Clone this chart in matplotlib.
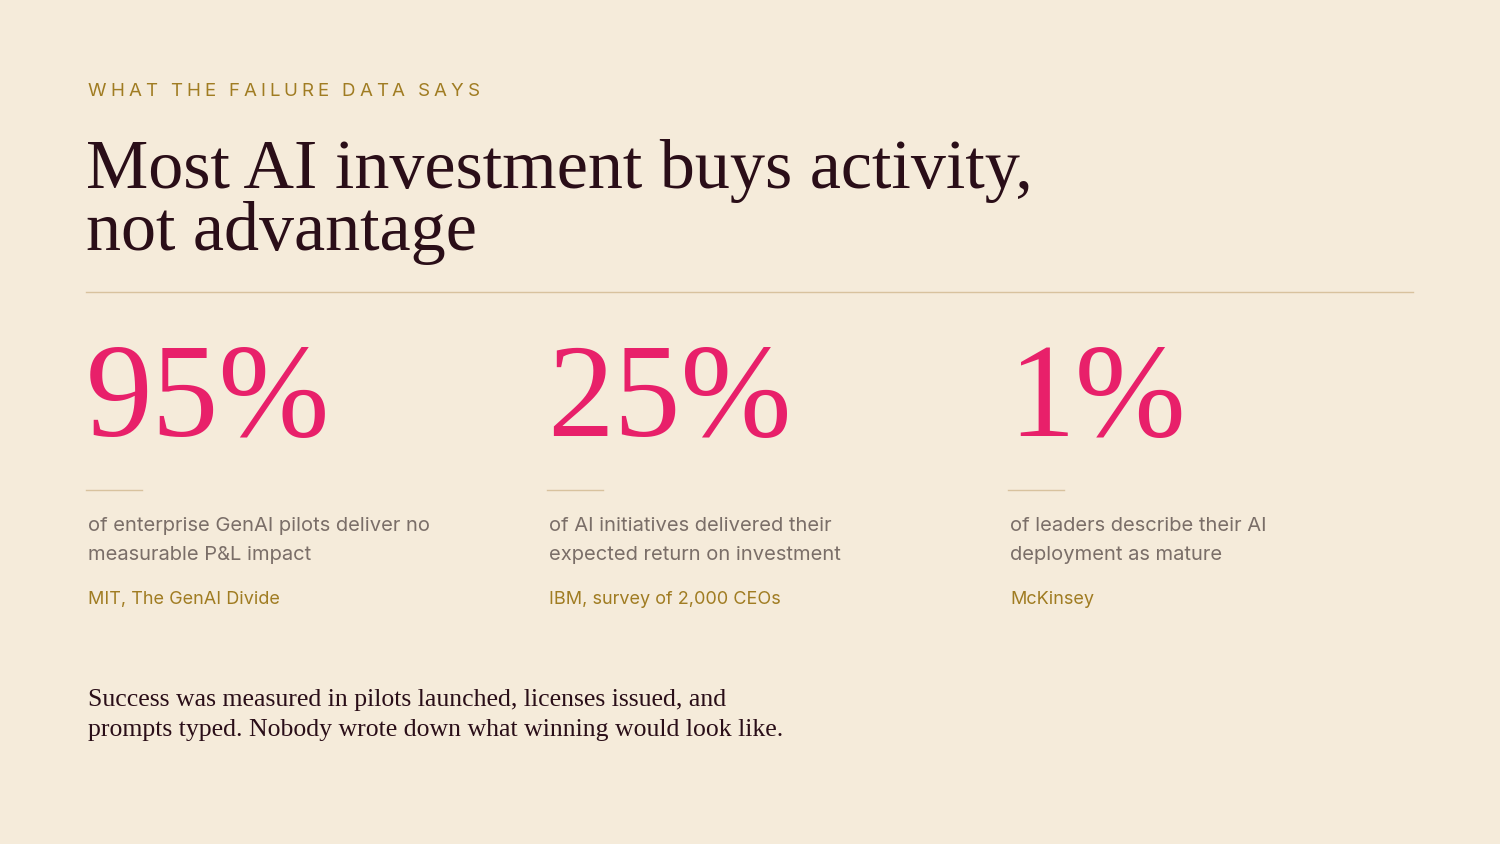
import matplotlib
matplotlib.use("Agg")
import matplotlib.pyplot as plt
from matplotlib.lines import Line2D

kicker = "WHAT THE FAILURE DATA SAYS"
title_lines = ["Most AI investment buys activity,", "not advantage"]
stats = ["95%", "25%", "1%"]
descs = [["of enterprise GenAI pilots deliver no", "measurable P&L impact"],
         ["of AI initiatives delivered their", "expected return on investment"],
         ["of leaders describe their AI", "deployment as mature"]]
sources = ["MIT, The GenAI Divide", "IBM, survey of 2,000 CEOs", "McKinsey"]
footer = ["Success was measured in pilots launched, licenses issued, and",
          "prompts typed. Nobody wrote down what winning would look like."]

W, H = 1500, 844
BG = "#F5EBDA"; DARK = "#2A0E18"; PINK = "#E8206A"; GOLD = "#A07C22"; GREY = "#7A6E68"; RULE = "#D8C29E"
SERIF = ["Liberation Serif", "DejaVu Serif"]
SANS = ["Inter", "DejaVu Sans"]

fig = plt.figure(figsize=(15, 8.44), dpi=100, facecolor=BG)

def T(x, y, s, **kw):
    return fig.text(x / W, 1 - y / H, s, va="baseline", ha="left", **kw)

def hline(x0, x1, y, c=RULE, lw=1):
    fig.add_artist(Line2D([x0 / W, x1 / W], [1 - y / H] * 2, color=c, lw=lw, transform=fig.transFigure))

r = fig.canvas.get_renderer()
x = 88
for ch in kicker:
    t = T(x, 96, ch, fontsize=13.5, color=GOLD, family=SANS)
    w = t.get_window_extent(r).width if ch != " " else 5
    x += w + 4.0

for i, line in enumerate(title_lines):
    T(86, 188 + 62 * i, line, fontsize=50.5, color=DARK, family=SERIF)

hline(86, 1413, 292)

xs = [88, 549, 1010]
for i, x0 in enumerate(xs):
    T(x0 - 2, 436, stats[i], fontsize=96, color=PINK, family=SERIF)
    hline(x0 - 2, x0 + 54, 490)
    for j, l in enumerate(descs[i]):
        T(x0, 531 + 29 * j, l, fontsize=14.5, color=GREY, family=SANS)
    T(x0, 604, sources[i], fontsize=13, color=GOLD, family=SANS)

for j, l in enumerate(footer):
    T(88, 706 + 30 * j, l, fontsize=18.5, color=DARK, family=SERIF)

fig.savefig("out.png", dpi=100, facecolor=BG)
